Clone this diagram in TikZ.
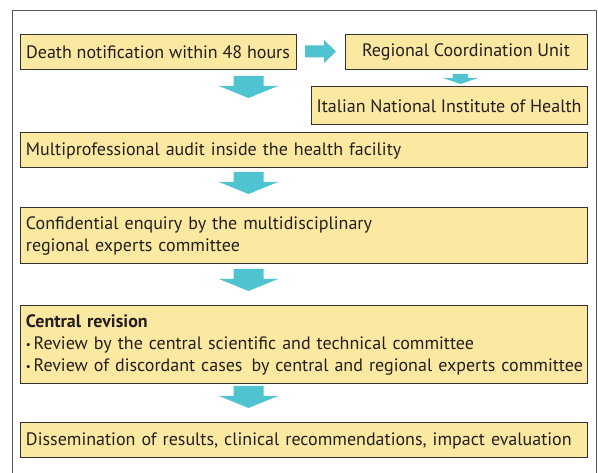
\documentclass[tikz,border=0pt]{standalone}
\usepackage{fontspec}
\setmainfont{PT Sans}
\definecolor{boxfill}{HTML}{FCE9A1}
\definecolor{boxline}{HTML}{333333}
\definecolor{arrowc}{HTML}{4FC3D0}
\definecolor{framec}{HTML}{555555}
\definecolor{txt}{HTML}{231F20}
\newcommand{\smbul}{\raisebox{0.15ex}{\fontsize{11}{11}\selectfont\textbullet}\hspace{0.15em}}
% block arrow pointing down: cx, ytop, shaft half width, head half width, shaft length, head length
\newcommand{\downblk}[6]{%
  \fill[arrowc] (#1,#2) ++(-#3,0) -- ++({2*#3},0) -- ++(0,#5) -- ++({#4-#3},0)
     -- ++(-#4,#6) -- ++(-#4,-#6) -- ++({#4-#3},0) -- cycle;}
% block arrow pointing right: xleft, cy, shaft half, head half, shaft length, head length
\newcommand{\rightblk}[6]{%
  \fill[arrowc] (#1,#2) ++(0,-#3) -- ++(#5,0) -- ++(0,{#3-#4}) -- ++(#6,#4)
     -- ++(-#6,#4) -- ++(0,{#3-#4}) -- ++(-#5,0) -- cycle;}
\begin{document}
\begin{tikzpicture}[x=1pt,y=-1pt,
  every node/.style={text=txt,font=\fontsize{18}{22}\selectfont},
  cbox/.style={draw=boxline,fill=boxfill,line width=1pt,inner sep=0pt,align=center},
  lbox/.style={draw=boxline,fill=boxfill,line width=1pt,inner xsep=6pt,inner ysep=0pt,
     align=left,text width=555pt}]
\useasboundingbox (0,0) rectangle (598,473);
\draw[framec,line width=1pt] (12,480) -- (12,11) -- (596,11) -- (596,480);

\node[cbox,minimum width=276pt,minimum height=35pt] (b1) at (158,52.5) {Death notification within 48 hours};
\node[cbox,minimum width=242pt,minimum height=35pt] (rcu) at (466,52.5) {Regional Coordination Unit};
\node[cbox,minimum width=276pt,minimum height=38pt] (isn) at (449,106) {Italian National Institute of Health};
\node[lbox,minimum height=35pt] (aud) at (303.5,150.5) {Multiprofessional audit inside the health facility};
\node[lbox,minimum height=56pt] (conf) at (303.5,236) {Confidential enquiry by the multidisciplinary\\regional experts committee};
\node[lbox,minimum height=78pt] (cent) at (303.5,345) {\textbf{Central revision}\\\mbox{\smbul Review by the central scientific and technical committee}\\\mbox{\smbul Review of discordant cases\hspace{0.5em}by central and regional experts committee}};
\node[lbox,minimum height=35pt] (diss) at (303.5,440.5) {Dissemination of results, clinical recommendations, impact evaluation};

\rightblk{305}{51.5}{6}{11.5}{19}{12}
\downblk{460.5}{74}{7.5}{17.5}{4}{6}
\downblk{248.5}{76}{15}{29.5}{10}{12}
\downblk{248.5}{172}{15}{29.5}{10}{12}
\downblk{248.5}{269}{15}{29.5}{10}{12}
\downblk{248.5}{386}{15}{29.5}{10}{12}
\end{tikzpicture}
\end{document}
